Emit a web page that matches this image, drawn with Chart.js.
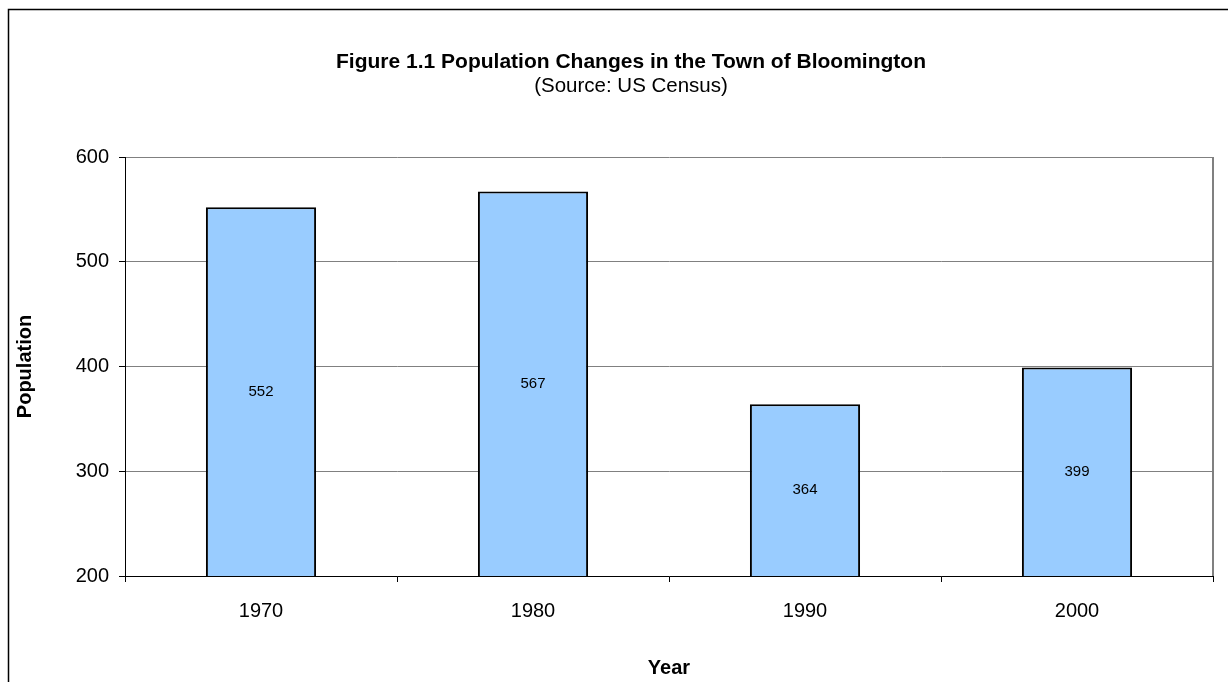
<!DOCTYPE html>
<html>
<head>
<meta charset="utf-8">
<title>Figure 1.1 Population Changes in the Town of Bloomington</title>
<script src="https://cdn.jsdelivr.net/npm/chart.js@4/dist/chart.umd.min.js"></script>
<style>
    body { margin: 0; background: #fff; }
    #wrap { width: 1228px; height: 682px; }
</style>
</head>
<body>
<div id="wrap"><canvas id="popChart" width="1228" height="682"></canvas></div>
<script>
// data
const years = ['1970', '1980', '1990', '2000'];
const population = [552, 567, 364, 399];
const yTicks = [200, 300, 400, 500, 600];

const chartTitle = 'Figure 1.1 Population Changes in the Town of Bloomington';
const chartSubtitle = '(Source: US Census)';

const FONT = '"Liberation Sans", Arial, sans-serif';

// values written in the middle of each bar (bars are clipped at the 200 baseline)
const barLabels = {
    id: 'barLabels',
    afterDatasetsDraw(chart) {
        const ctx = chart.ctx;
        const meta = chart.getDatasetMeta(0);
        const bottom = chart.chartArea.bottom;
        ctx.save();
        ctx.font = '15px ' + FONT;
        ctx.fillStyle = '#000';
        ctx.textAlign = 'center';
        ctx.textBaseline = 'middle';
        meta.data.forEach((bar, i) => {
            const base = Math.min(bar.base, bottom);
            ctx.fillText(String(population[i]), bar.x, (bar.y + base) / 2);
        });
        ctx.restore();
    }
};

// titles (centred on the whole figure frame), outer frame, plot area right edge
const frames = {
    id: 'frames',
    afterDraw(chart) {
        const ctx = chart.ctx;
        const a = chart.chartArea;
        ctx.save();
        ctx.fillStyle = '#000';
        ctx.textAlign = 'center';
        ctx.textBaseline = 'middle';
        ctx.font = 'bold 21px ' + FONT;
        ctx.fillText(chartTitle, 631, 62);
        ctx.font = '20.5px ' + FONT;
        ctx.fillText(chartSubtitle, 631, 86);

        ctx.strokeStyle = '#808080';
        ctx.lineWidth = 2;
        ctx.beginPath();
        ctx.moveTo(a.right, a.top);
        ctx.lineTo(a.right, a.bottom);
        ctx.stroke();

        ctx.strokeStyle = '#000';
        ctx.lineWidth = 1.5;
        ctx.beginPath();
        ctx.moveTo(8.5, chart.height);
        ctx.lineTo(8.5, 9.5);
        ctx.lineTo(chart.width, 9.5);
        ctx.stroke();
        ctx.restore();
    }
};

new Chart(document.getElementById('popChart'), {
    type: 'bar',
    data: {
        labels: years,
        datasets: [{
            data: population,
            backgroundColor: '#99CCFF',
            borderColor: '#000',
            borderWidth: 2,
            borderSkipped: false,
            barPercentage: 0.405,
            categoryPercentage: 1
        }]
    },
    options: {
        responsive: false,
        animation: false,
        layout: { padding: { left: 0, right: 15, top: 157, bottom: 0 } },
        plugins: {
            legend: { display: false },
            tooltip: { enabled: false },
            title: { display: false }
        },
        scales: {
            x: {
                offset: true,
                grid: {
                    offset: true,
                    drawOnChartArea: false,
                    drawTicks: true,
                    tickLength: 6,
                    tickColor: '#000'
                },
                border: { color: '#000', width: 1 },
                ticks: { color: '#000', font: { family: FONT, size: 20 }, padding: 17, maxRotation: 0 },
                title: {
                    display: true,
                    text: 'Year',
                    color: '#000',
                    font: { family: FONT, size: 20, weight: 'bold' },
                    padding: { top: 0, bottom: 2 }
                },
                afterFit(scale) { scale.height = 106; }
            },
            y: {
                min: 200,
                max: 600,
                afterBuildTicks(scale) { scale.ticks = yTicks.map(v => ({ value: v })); },
                grid: {
                    color: '#808080',
                    lineWidth: 1,
                    tickLength: 6,
                    tickColor: '#000'
                },
                border: { color: '#000', width: 1 },
                ticks: { color: '#000', font: { family: FONT, size: 20 }, padding: 10 },
                title: {
                    display: true,
                    text: 'Population',
                    color: '#000',
                    font: { family: FONT, size: 20, weight: 'bold' },
                    padding: { top: 13, bottom: 0 }
                },
                afterFit(scale) { scale.width = 125; }
            }
        }
    },
    plugins: [barLabels, frames]
});
</script>
</body>
</html>
